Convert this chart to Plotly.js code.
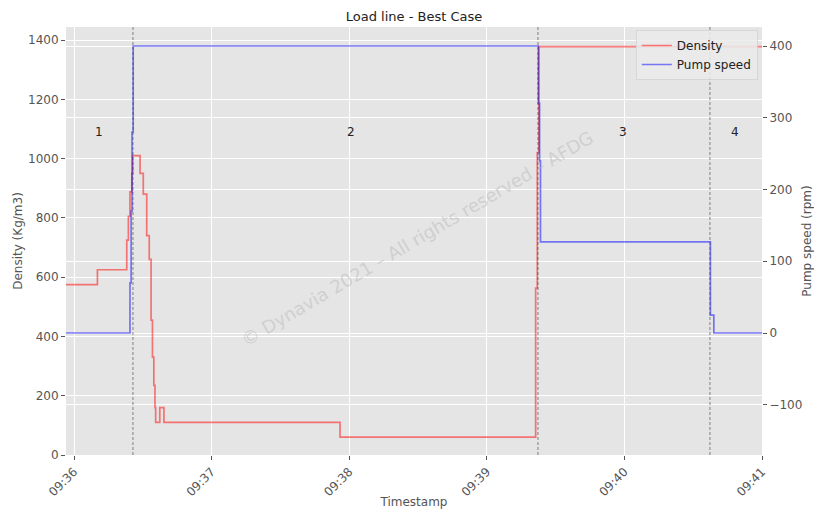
<!DOCTYPE html>
<html>
<head>
<meta charset="utf-8">
<script src="https://cdn.plot.ly/plotly-3.0.1.min.js"></script>
<style>html,body{margin:0;padding:0;background:#fff;}#chart{width:814px;height:509px;}</style>
</head>
<body>
<div id="chart"></div>
<script>
// ---- data ----
const densityTime = [
  '2021-01-01 09:35:56.5','2021-01-01 09:36:10.2','2021-01-01 09:36:23.0','2021-01-01 09:36:23.7',
  '2021-01-01 09:36:24.4','2021-01-01 09:36:25.2','2021-01-01 09:36:25.6','2021-01-01 09:36:28.8',
  '2021-01-01 09:36:30.2','2021-01-01 09:36:31.7','2021-01-01 09:36:32.8','2021-01-01 09:36:33.6',
  '2021-01-01 09:36:34.2','2021-01-01 09:36:34.8','2021-01-01 09:36:35.3','2021-01-01 09:36:35.6',
  '2021-01-01 09:36:37.4','2021-01-01 09:36:39.2','2021-01-01 09:37:56.0','2021-01-01 09:39:21.3',
  '2021-01-01 09:39:22.0','2021-01-01 09:39:22.7','2021-01-01 09:41:00.0'
];
const densityValue = [575, 625, 725, 805, 888, 950, 1010, 950, 880, 740, 660, 455, 330, 235, 160, 110, 160, 110, 60, 563, 1020, 1378, 1378];

const pumpTime = [
  '2021-01-01 09:35:56.5','2021-01-01 09:36:24.4','2021-01-01 09:36:24.9','2021-01-01 09:36:25.3',
  '2021-01-01 09:36:25.8','2021-01-01 09:39:22.5','2021-01-01 09:39:23.0','2021-01-01 09:39:23.4',
  '2021-01-01 09:40:37.5','2021-01-01 09:40:39.0','2021-01-01 09:41:00.0'
];
const pumpValue = [0, 70, 170, 280, 400, 320, 240, 127, 25, 0, 0];

const phaseBoundaries = ['2021-01-01 09:36:25.7','2021-01-01 09:39:22.3','2021-01-01 09:40:37.3'];
const phaseLabels = ['1','2','3','4'];
const phaseLabelTime = ['2021-01-01 09:36:10.9','2021-01-01 09:38:00.8','2021-01-01 09:39:59.4','2021-01-01 09:40:48.2'];
const phaseLabelLevel = 1090;

const xRange = ['2021-01-01 09:35:56.5','2021-01-01 09:41:00'];
const densityRange = [0, 1444];
const pumpRange = [-170, 426.5];

const titleText = 'Load line - Best Case';
const watermarkText = '© Dynavia 2021 – All rights reserved – AFDG';

// ---- chart ----
const font = 'DejaVu Sans, sans-serif';
const tickColor = '#555';

const traces = [
  {x: densityTime, y: densityValue, name: 'Density', type: 'scatter', mode: 'lines',
   line: {shape: 'hv', color: 'rgba(255,0,0,0.5)', width: 1.7}, yaxis: 'y'},
  {x: pumpTime, y: pumpValue, name: 'Pump speed', type: 'scatter', mode: 'lines',
   line: {shape: 'hv', color: 'rgba(0,0,255,0.5)', width: 1.7}, yaxis: 'y2'}
];

const shapes = phaseBoundaries.map(t => ({
  type: 'line', xref: 'x', yref: 'paper', x0: t, x1: t, y0: 0, y1: 1,
  line: {color: 'rgba(60,60,60,0.6)', width: 1, dash: '3px,2px'}, layer: 'above'
}));

const annotations = phaseLabels.map((lab, i) => ({
  x: phaseLabelTime[i], y: phaseLabelLevel, xref: 'x', yref: 'y', text: lab,
  showarrow: false, font: {family: font, size: 12, color: '#222'}
}));
annotations.push({
  xref: 'paper', yref: 'paper', x: 0.505, y: 0.505, text: watermarkText, showarrow: false,
  textangle: -30.5, font: {family: font, size: 18, color: 'rgba(185,185,185,0.5)'}
});

const layout = {
  width: 814, height: 509,
  margin: {l: 66, r: 52, t: 27, b: 54},
  paper_bgcolor: '#ffffff', plot_bgcolor: '#e5e5e5',
  font: {family: font, size: 12, color: tickColor},
  title: {text: titleText, x: 0.5, xref: 'paper', y: 0.967, yanchor: 'middle',
          font: {family: font, size: 13, color: '#222'}},
  showlegend: true,
  legend: {x: 0.994, y: 0.993, xanchor: 'right', yanchor: 'top',
           bgcolor: 'rgba(235,235,235,0.85)', bordercolor: 'rgba(210,210,210,0.8)', borderwidth: 1,
           font: {family: font, size: 12, color: '#222'}},
  xaxis: {type: 'date', range: xRange, dtick: 60000, tick0: '2021-01-01 09:36:00', tickformat: '%H:%M',
          tickangle: -45, showgrid: true, gridcolor: '#ffffff', gridwidth: 1, zeroline: false,
          ticks: 'outside', ticklen: 4, tickcolor: tickColor, showline: false,
          tickfont: {family: font, size: 12, color: tickColor},
          title: {text: 'Timestamp', font: {family: font, size: 12, color: tickColor}, standoff: 4}},
  yaxis: {range: densityRange, dtick: 200, showgrid: true, gridcolor: '#ffffff', gridwidth: 1, zeroline: false,
          ticks: 'outside', ticklen: 4, tickcolor: tickColor, showline: false,
          tickfont: {family: font, size: 12, color: tickColor},
          title: {text: 'Density (Kg/m3)', font: {family: font, size: 12, color: tickColor}, standoff: 2}},
  yaxis2: {range: pumpRange, dtick: 100, tick0: 0, overlaying: 'y', side: 'right', showgrid: true,
           gridcolor: '#ffffff', gridwidth: 1, zeroline: false,
           ticks: 'outside', ticklen: 4, tickcolor: tickColor, showline: false,
           tickfont: {family: font, size: 12, color: tickColor},
           title: {text: 'Pump speed (rpm)', font: {family: font, size: 12, color: tickColor}, standoff: 8}},
  shapes: shapes,
  annotations: annotations
};

Plotly.newPlot('chart', traces, layout, {displayModeBar: false, staticPlot: true});
</script>
</body>
</html>
